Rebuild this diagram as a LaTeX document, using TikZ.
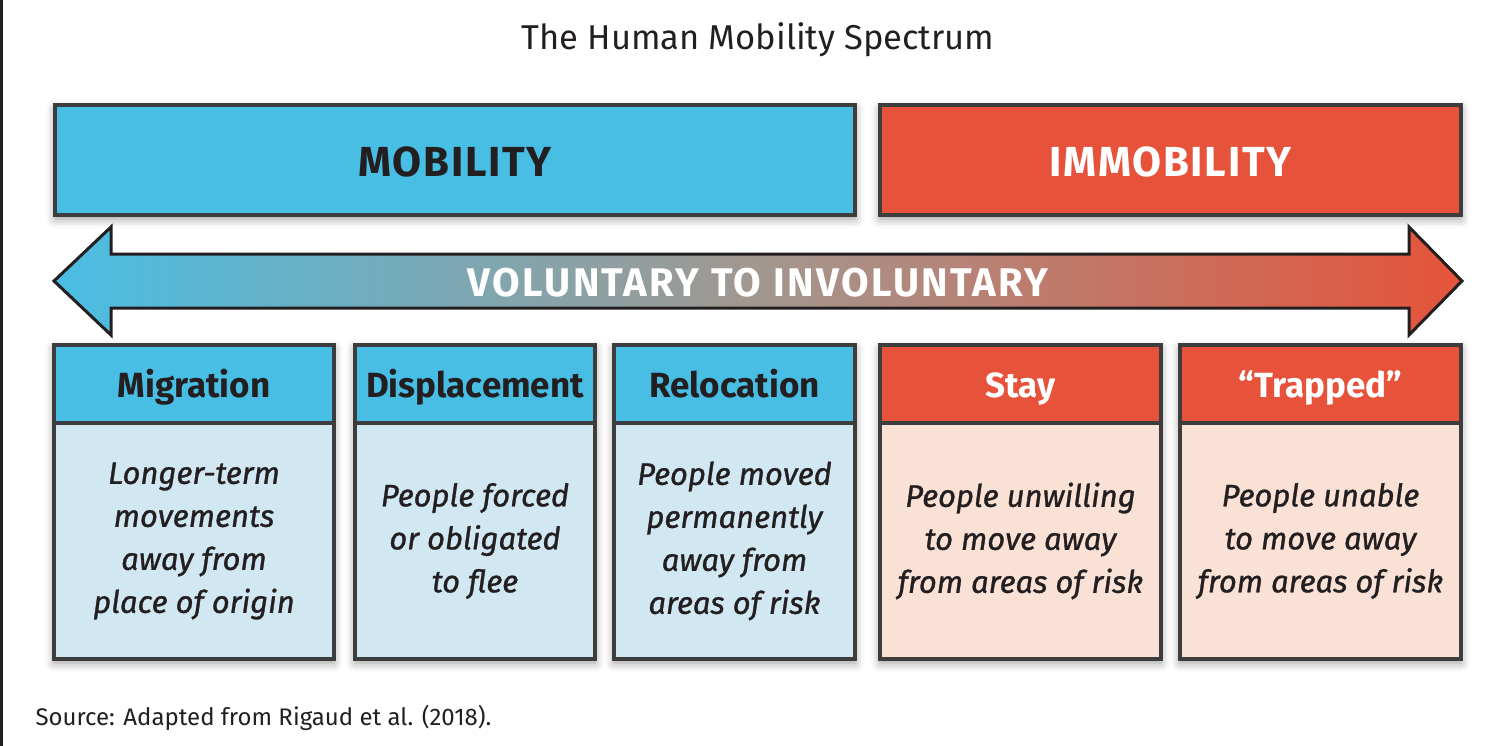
\documentclass[tikz,border=0pt]{standalone}
\usepackage{fontspec}
\setmainfont{Fira Sans}
\usetikzlibrary{positioning,shadows.blur,backgrounds}
\definecolor{mobblue}{HTML}{49BEE4}
\definecolor{mobpale}{HTML}{D1E8F3}
\definecolor{immred}{HTML}{E6533A}
\definecolor{immpale}{HTML}{F9E1D6}
\definecolor{edgegray}{HTML}{3D3D3D}
\definecolor{inkdark}{HTML}{231F20}
\definecolor{midgray}{HTML}{A2978F}

\tikzset{
	box/.style={draw=edgegray, line width=4pt, inner sep=0pt, outer sep=0pt, align=center, text=inkdark},
	headbox/.style={box, minimum height=78pt, text height=26pt, text depth=0pt, font=\fontsize{35}{42}\selectfont\bfseries},
	bodybox/.style={box, minimum height=236pt, font=\fontsize{31}{43}\selectfont\itshape\addfontfeature{FakeBold=1}},
	bigbox/.style={box, minimum height=110pt, anchor=north west, text height=34pt, text depth=0pt, font=\fontsize{42}{50}\selectfont\bfseries\addfontfeature{LetterSpace=4}},
	shadowed/.style={blur shadow={shadow xshift=0pt, shadow yshift=-4pt, shadow blur radius=9pt, shadow opacity=40}}
}

\begin{document}
\begin{tikzpicture}[x=1pt, y=-1pt]
	\useasboundingbox (0,0) rectangle (1510,746);
	% frame line on the left
	\draw[line width=3pt, inkdark] (1.5,0) -- (1.5,746);
	% title
	\node[font=\fontsize{34.5}{41}\selectfont, text=inkdark] (title) at (758,40) {The Human Mobility Spectrum};
	% top boxes
	\node[bigbox, fill=mobblue, minimum width=800pt] (mobility) at (55,105) {MOBILITY};
	\node[bigbox, fill=immred, minimum width=581pt, text=white] (immobility) at (880,105) {IMMOBILITY};
	% the arrow
	\draw[line width=3pt, draw=inkdark, left color=mobblue, right color=immred, middle color=midgray]
		(54,281) -- (111,227) -- (111,254) -- (1409,254) -- (1409,227) -- (1462,281)
		-- (1409,335) -- (1409,308) -- (111,308) -- (111,335) -- cycle;
	\node[font=\fontsize{40}{48}\selectfont\bfseries\addfontfeature{LetterSpace=6}, text=white] (spectrum) at (758,283) {VOLUNTARY TO INVOLUNTARY};
	% the five kinds
	\node[headbox, fill=mobblue, minimum width=280pt, anchor=north west] (migration) at (54,345) {Migration};
	\node[bodybox, fill=mobpale, minimum width=280pt, below=0pt of migration] (migrationtext) {Longer-term\\movements\\away from\\place of origin};
	\node[headbox, fill=mobblue, minimum width=240pt, anchor=north west] (displacement) at (355,345) {Displacement};
	\node[bodybox, fill=mobpale, minimum width=240pt, below=0pt of displacement] (displacementtext) {People forced\\or obligated\\to flee};
	\node[headbox, fill=mobblue, minimum width=241pt, anchor=north west] (relocation) at (614,345) {Relocation};
	\node[bodybox, fill=mobpale, minimum width=241pt, below=0pt of relocation] (relocationtext) {People moved\\permanently\\away from\\areas of risk};
	\node[headbox, fill=immred, minimum width=281pt, anchor=north west, text=white] (stay) at (880,345) {Stay};
	\node[bodybox, fill=immpale, minimum width=281pt, below=0pt of stay] (staytext) {People unwilling\\to move away\\from areas of risk};
	\node[headbox, fill=immred, minimum width=281pt, anchor=north west, text=white] (trapped) at (1180,345) {“Trapped”};
	\node[bodybox, fill=immpale, minimum width=281pt, below=0pt of trapped] (trappedtext) {People unable\\to move away\\from areas of risk};
	% soft shadows behind the boxes
	\begin{scope}[on background layer]
		\path[shadowed] (mobility.north west) rectangle (mobility.south east);
		\path[shadowed] (immobility.north west) rectangle (immobility.south east);
		\path[shadowed] (migration.north west) rectangle (migrationtext.south east);
		\path[shadowed] (displacement.north west) rectangle (displacementtext.south east);
		\path[shadowed] (relocation.north west) rectangle (relocationtext.south east);
		\path[shadowed] (stay.north west) rectangle (staytext.south east);
		\path[shadowed] (trapped.north west) rectangle (trappedtext.south east);
	\end{scope}
	% source
	\node[anchor=west, font=\fontsize{24}{29}\selectfont, text=inkdark] (source) at (32,718) {Source: Adapted from Rigaud et al. (2018).};
\end{tikzpicture}
\end{document}
